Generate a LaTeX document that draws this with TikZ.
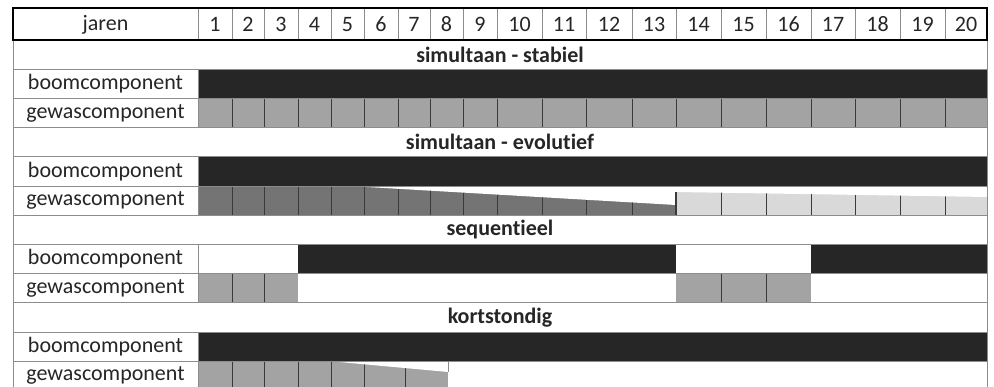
\documentclass[tikz,border=0pt]{standalone}
\usepackage{fontspec}
\setmainfont[Ligatures=NoCommon]{Carlito}
\definecolor{boomc}{HTML}{262626}
\definecolor{gwgrey}{HTML}{A3A3A3}
\definecolor{evodark}{HTML}{747474}
\definecolor{evolight}{HTML}{D9D9D9}
\definecolor{rulec}{HTML}{8C8C8C}
\definecolor{celline}{HTML}{3A3A3A}
\begin{document}
\begin{tikzpicture}[x=1pt,y=-1pt,
  txt/.style={inner sep=0pt,font=\fontsize{22}{26}\selectfont,text=black!85},
  ttl/.style={txt,font=\fontsize{22}{26}\selectfont\bfseries},
  rulel/.style={draw=rulec,line width=0.9pt},
  cellline/.style={draw=celline,line width=1pt}]
\useasboundingbox (0,0) rectangle (994,387);
\clip (0,0) rectangle (994,387);
\fill[white] (0,0) rectangle (994,387);
% row boundaries: 40 + 29.2 k
% ---------- simultaan - stabiel ----------
\fill[boomc] (198,69.2) rectangle (987,98.4);
\fill[gwgrey] (198,98.4) rectangle (987,127.6);
\foreach \x in {232,264,298,331,364,398,430,463,497,542,586,632,676,721,766,811,855,900,945}
  \draw[cellline] (\x,98.4) -- (\x,127.6);
% ---------- simultaan - evolutief ----------
\fill[boomc] (198,156.8) rectangle (987,186);
\fill[evodark] (198,186) rectangle (676,215.2);
\foreach \x in {232,264,298,331,364,398,430,463,497,542,586,632}
  \draw[cellline] (\x,186) -- (\x,215.2);
\fill[white] (360,186.6) -- (676,186.6) -- (676,205) -- cycle;
\fill[evolight] (676,186) rectangle (987,215.2);
\foreach \x in {721,766,811,855,900,945}
  \draw[cellline] (\x,186) -- (\x,215.2);
\fill[white] (676,186.6) -- (987,186.6) -- (987,197) -- (676,192) -- cycle;
\draw[celline,line width=1.8pt] (676,192) -- (676,215.2);
% ---------- sequentieel ----------
\fill[boomc] (298,244.4) rectangle (676,273.6);
\fill[boomc] (811,244.4) rectangle (987,273.6);
\fill[gwgrey] (198,273.6) rectangle (298,302.8);
\fill[gwgrey] (676,273.6) rectangle (811,302.8);
\foreach \x in {232,264,721,766}
  \draw[cellline] (\x,273.6) -- (\x,302.8);
% ---------- kortstondig ----------
\fill[boomc] (198,332) rectangle (987,361.2);
\fill[gwgrey] (198,361.2) rectangle (448,390.4);
\foreach \x in {232,264,298,331,364,405}
  \draw[cellline] (\x,361.2) -- (\x,390.4);
\fill[white] (337,361.8) -- (448,361.8) -- (448,372) -- cycle;
\draw[rulel] (448,361.2) -- (448,372);
% ---------- rules ----------
\foreach \y in {69.2,98.4,127.6,156.8,186,215.2,244.4,273.6,302.8,332,361.2}
  \draw[rulel] (13,\y) -- (987,\y);
\draw[rulel] (13,40) -- (13,392);
\draw[rulel] (987,40) -- (987,392);
\foreach \a/\b in {69.2/127.6,156.8/215.2,244.4/302.8,332/392}
  \draw[rulel] (198,\a) -- (198,\b);
% ---------- header ----------
\foreach \x in {198,232,264,298,331,364,398,430,463,497,542,586,632,676,721,766,811,855,900,945}
  \draw[rulel] (\x,8) -- (\x,40);
\draw[black,line width=2.6pt] (13,8) rectangle (987,40);
\node[txt] (jaren) at (105.5,24.5) {jaren};
\foreach \n/\a/\b in {1/198/232,2/232/264,3/264/298,4/298/331,5/331/364,6/364/398,7/398/430,8/430/463,9/463/497,10/497/542,11/542/586,12/586/632,13/632/676,14/676/721,15/721/766,16/766/811,17/811/855,18/855/900,19/900/945,20/945/987}
  \node[txt] (y\n) at ({(\a+\b)/2},24.5) {\n};
% ---------- titles ----------
\node[ttl] (t1) at (500,54.6) {simultaan - stabiel};
\node[ttl] (t2) at (500,142.2) {simultaan - evolutief};
\node[ttl] (t3) at (500,229.8) {sequentieel};
\node[ttl] (t4) at (500,317.4) {kortstondig};
% ---------- labels ----------
\node[txt] (b1) at (105.5,83.8) {boomcomponent};
\node[txt] (g1) at (105.5,113) {gewascomponent};
\node[txt] (b2) at (105.5,171.4) {boomcomponent};
\node[txt] (g2) at (105.5,200.6) {gewascomponent};
\node[txt] (b3) at (105.5,259) {boomcomponent};
\node[txt] (g3) at (105.5,288.2) {gewascomponent};
\node[txt] (b4) at (105.5,346.6) {boomcomponent};
\node[txt] (g4) at (105.5,375.8) {gewascomponent};
\end{tikzpicture}
\end{document}
